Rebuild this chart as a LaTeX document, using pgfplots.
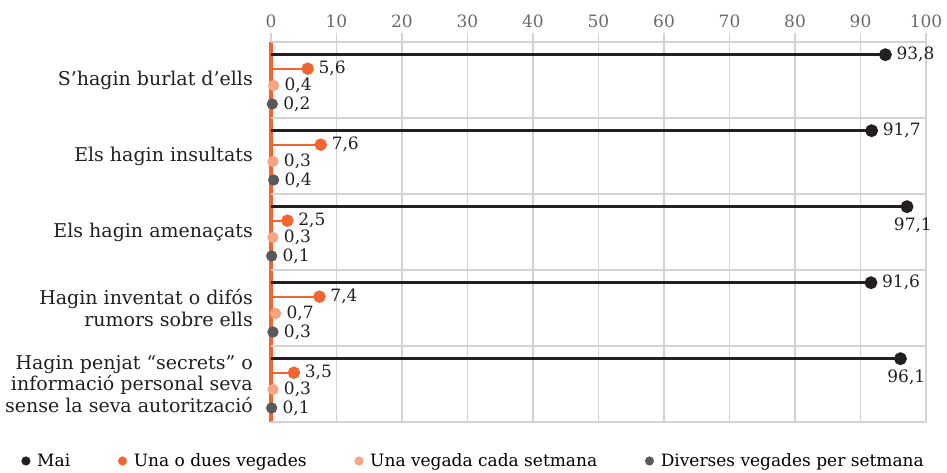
\documentclass[border=0pt]{standalone}
\usepackage{fontspec}
\setmainfont{DejaVu Serif}
\usepackage{pgfplots}
\pgfplotsset{compat=1.18}
\definecolor{cMai}{HTML}{231F20}
\definecolor{cUna}{HTML}{F26531}
\definecolor{cVeg}{HTML}{F6A583}
\definecolor{cDiv}{HTML}{58595B}
\definecolor{cGrid}{HTML}{D3D3D3}
\definecolor{cTick}{HTML}{6A6A6A}
\begin{document}
\begin{tikzpicture}[x=1pt,y=1pt]
\useasboundingbox (0,0) rectangle (947,472);
\begin{axis}[
  at={(271pt,50pt)}, anchor=south west,
  scale only axis, width=655pt, height=380pt,
  xmin=0, xmax=100, ymin=0, ymax=5,
  clip=false,
  axis x line*=top, axis y line*=left,
  x axis line style={draw=none,-},
  y axis line style={draw=cUna, line width=4.5pt, -},
  xtick={0,10,...,100},
  xmajorgrids, grid style={cGrid, line width=1.2pt},
  tick align=outside, major tick length=9pt,
  x tick style={cGrid, line width=1.2pt},
  xticklabel={\fontsize{17}{17}\selectfont\color{cTick}\pgfmathprintnumber[assume math mode=true]{\tick}},
  xticklabel style={inner sep=0pt, yshift=5pt},
  ytick={0.5,1.5,2.5,3.5,4.5},
  yticklabels={{Hagin penjat “secrets” o\\informació personal seva\\sense la seva autorització},
               {Hagin inventat o difós\\rumors sobre ells},
               {Els hagin amenaçats},
               {Els hagin insultats},
               {S’hagin burlat d’ells}},
  y tick style={draw=none},
  yticklabel style={align=right, font=\fontsize{19}{21.5}\selectfont, text=cMai, inner sep=0pt, xshift=-9pt},
  extra y ticks={0,1,2,3,4,5},
  extra y tick labels={},
  extra y tick style={grid=major, y tick style={draw=none}},
  /pgf/number format/assume math mode=true,
  point meta=x,
  nodes near coords={\pgfmathprintnumber[fixed,fixed zerofill,precision=1,use comma]{\pgfplotspointmeta}},
  every node near coord/.append style={font=\fontsize{17}{17}\selectfont, text=cMai, inner sep=0pt, anchor=west, xshift=10pt},
  legend columns=4,
  legend cell align=left,
  legend style={draw=none, fill=none, at={(axis description cs:-0.381,-0.1026)}, anchor=west,
    inner sep=0pt, font=\fontsize{17}{17}\selectfont,
    /tikz/every odd column/.append style={column sep=5pt},
    /tikz/every even column/.append style={column sep=46pt}},
]
\addlegendimage{only marks, mark=*, mark size=4.3pt, cMai}
\addlegendentry{Mai}
\addlegendimage{only marks, mark=*, mark size=4.3pt, cUna}
\addlegendentry{Una o dues vegades}
\addlegendimage{only marks, mark=*, mark size=4.3pt, cVeg}
\addlegendentry{Una vegada cada setmana}
\addlegendimage{only marks, mark=*, mark size=4.3pt, cDiv}
\addlegendentry{Diverses vegades per setmana}

% Una vegada cada setmana
\addplot[forget plot, xcomb, draw=cVeg, line width=2pt, mark=*, mark size=4.6pt, mark options={fill=cVeg, draw=cVeg}]
 coordinates {(0.4,4.428) (0.3,3.428) (0.3,2.428) (0.7,1.428) (0.3,0.428)};
% Diverses vegades per setmana
\addplot[forget plot, xcomb, draw=cDiv, line width=2pt, mark=*, mark size=4.6pt, mark options={fill=cDiv, draw=cDiv}]
 coordinates {(0.2,4.184) (0.4,3.184) (0.1,2.184) (0.3,1.184) (0.1,0.184)};
% Una o dues vegades
\addplot[forget plot, xcomb, draw=cUna, line width=2pt, mark=*, mark size=5.2pt, mark options={fill=cUna, draw=cUna}]
 coordinates {(5.6,4.649) (7.6,3.649) (2.5,2.649) (7.4,1.649) (3.5,0.649)};
% Mai
\addplot[forget plot, xcomb, draw=cMai, line width=2.4pt, mark=*, mark size=5.2pt, mark options={fill=cMai, draw=cMai}]
 coordinates {(93.8,4.833) (91.7,3.833) (91.6,1.833)};
\addplot[forget plot, xcomb, draw=cMai, line width=2.4pt, mark=*, mark size=5.2pt, mark options={fill=cMai, draw=cMai},
  every node near coord/.append style={anchor=north east, xshift=16pt, yshift=-10pt}]
 coordinates {(97.1,2.833) (96.1,0.833)};
\end{axis}
\end{tikzpicture}
\end{document}
